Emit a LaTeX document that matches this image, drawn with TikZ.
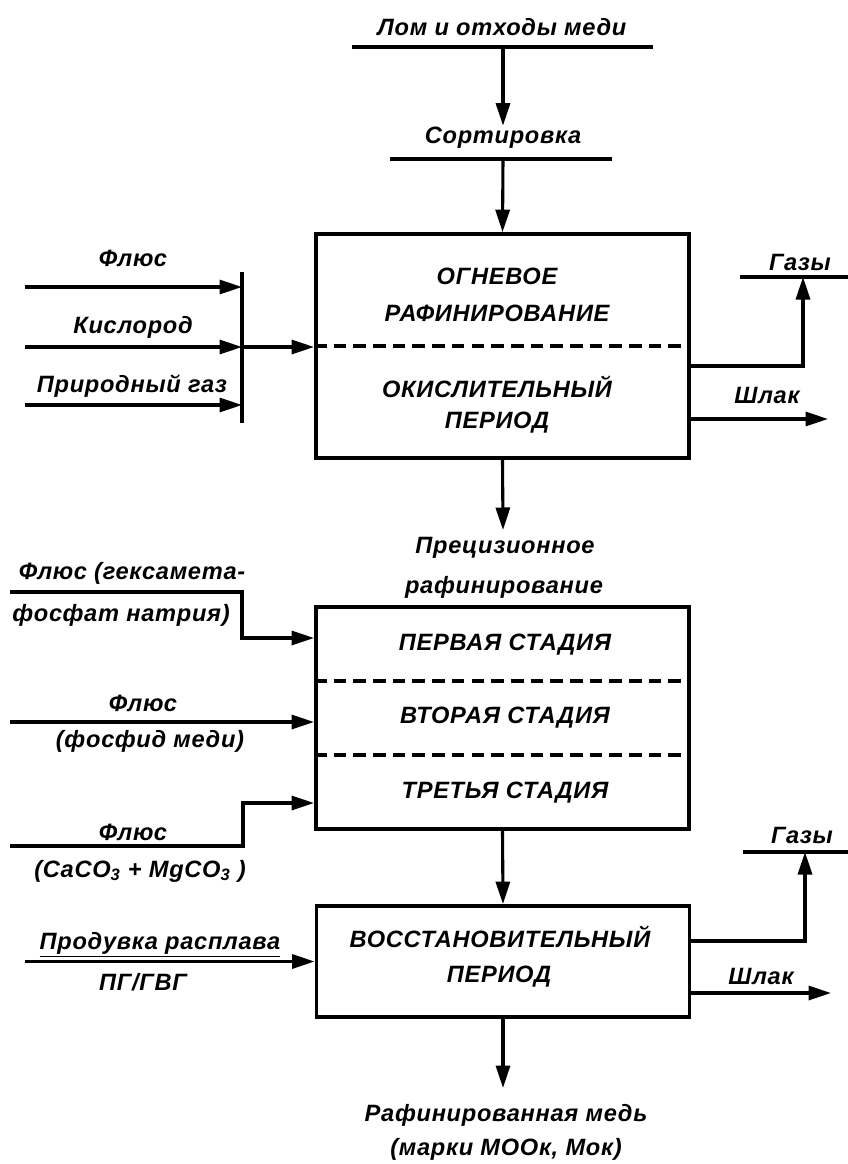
\documentclass[tikz,border=0pt]{standalone}
\usepackage{fontspec}
\setmainfont{Liberation Sans}
\newfontfamily\gost{Liberation Sans}[LetterSpace=3]
\usetikzlibrary{arrows.meta, positioning, calc}
\tikzset{
	stage/.style={draw, line width=2.6pt, minimum width=9.33cm, inner sep=0pt},
	lbl/.style={font=\gost\bfseries\itshape\fontsize{16.8}{20}\selectfont, inner sep=1pt},
	flow/.style={line width=2.2pt, -{Triangle[length=16pt,width=10pt]}},
	rule/.style={line width=2.2pt},
	divider/.style={line width=2.4pt, dash pattern=on 9pt off 5pt}
}

\begin{document}
\begin{tikzpicture}[x=0.025cm, y=-0.025cm]
					\useasboundingbox (0,0) rectangle (848,1164);
					
					% scrap and sorting
					\node[lbl] at (502,27) (scrap) {Лом и отходы меди};
					\coordinate (scrapL) at (352,47);
					\coordinate (scrapR) at (653,47);
					\coordinate (scrapC) at (503,47);
					\draw[rule] (scrapL) -- (scrapR);
					\node[lbl] at (503,138) (sorting) {Сортировка};
					\coordinate (sortL) at (390,159);
					\coordinate (sortR) at (612,159);
					\coordinate (sortC) at (503,159);
					\draw[rule] (sortL) -- (sortR);
					\draw[flow] (scrapC) -- (sorting.north);
					
					% fire refining
					\node[stage, minimum height=5.6cm] at (502.5,346) (fire) {};
					\node[lbl] at (497,276) (fireA) {ОГНЕВОЕ};
					\node[lbl] at (497,313) (fireB) {РАФИНИРОВАНИЕ};
					\node[lbl] at (497,387) (fireC) {ОКИСЛИТЕЛЬНЫЙ};
					\node[lbl] at (497,423) (fireD) {ПЕРИОД};
					\draw[divider] (fire.west) -- (fire.east);
					\draw[flow] (sortC) -- (fire.north);
					
					\coordinate (barT) at (242,272);
					\coordinate (barB) at (242,423);
					\draw[rule] (barT) -- (barB);
					\foreach \y [count=\i] in {287,347,405} {
						\coordinate (src\i) at (25,\y);
						\coordinate (bar\i) at (242,\y);
						\draw[flow] (src\i) -- (bar\i);
					}
					\node[lbl] at (133,258) (flux) {Флюс};
					\node[lbl] at (133,327) (oxygen) {Кислород};
					\node[lbl] at (132,386) (natgas) {Природный газ};
					\draw[flow] (bar2) -- (fire.west |- bar2);
					
					\coordinate (gasL) at (740,277);
					\coordinate (gasR) at (848,277);
					\coordinate (gasUp) at (803,277);
					\coordinate (gasRow) at (0,366);
					\draw[rule] (gasL) -- (gasR);
					\node[lbl] at (800,262) (gasA) {Газы};
					\draw[flow] (fire.east |- gasRow) -- (gasUp |- gasRow) -- (gasUp);
					\coordinate (slagEnd) at (828,419);
					\node[lbl] at (767,395) (slagA) {Шлак};
					\draw[flow] (fire.east |- slagEnd) -- (slagEnd);
					
					% precision refining
					\coordinate (precIn) at (503,530);
					\draw[flow] (fire.south) -- (precIn);
					\node[lbl] at (505,548) (precA) {Прецизионное};
					\node[lbl] at (504,587) (precB) {рафинирование};
					\node[stage, minimum height=5.55cm] at (502.5,718) (precise) {};
					\node[lbl] at (505,645) (stage1) {ПЕРВАЯ СТАДИЯ};
					\node[lbl] at (505,718) (stage2) {ВТОРАЯ СТАДИЯ};
					\node[lbl] at (505,793) (stage3) {ТРЕТЬЯ СТАДИЯ};
					\coordinate (div1) at (0,681);
					\coordinate (div2) at (0,755);
					\draw[divider] (precise.west |- div1) -- (precise.east |- div1);
					\draw[divider] (precise.west |- div2) -- (precise.east |- div2);
					
					\coordinate (hexL) at (10,592);
					\coordinate (hexK) at (242,592);
					\coordinate (hexRow) at (0,638);
					\node[lbl] at (132,573) (hexA) {Флюс (гексамета-};
					\node[lbl] at (121,615) (hexB) {фосфат натрия)};
					\draw[flow] (hexL) -- (hexK) -- (hexK |- hexRow) -- (precise.west |- hexRow);
					
					\coordinate (phosL) at (10,722);
					\node[lbl] at (143,703) (phosA) {Флюс};
					\node[lbl] at (150,741) (phosB) {(фосфид меди)};
					\draw[flow] (phosL) -- (precise.west |- phosL);
					
					\coordinate (carbL) at (10,846);
					\coordinate (carbK) at (243,846);
					\coordinate (carbRow) at (0,803);
					\node[lbl] at (133,832) (carbA) {Флюс};
					\node[lbl] at (140,871) (carbB) {(CaCO\textsubscript{3} + MgCO\textsubscript{3} )};
					\draw[flow] (carbL) -- (carbK) -- (carbK |- carbRow) -- (precise.west |- carbRow);
					
					% reduction
					\node[stage, minimum height=2.78cm] at (503,961.5) (reduce) {};
					\node[lbl] at (500,937) (redA) {ВОССТАНОВИТЕЛЬНЫЙ};
					\node[lbl] at (499,977) (redB) {ПЕРИОД};
					\draw[flow] (precise.south) -- (reduce.north);
					
					\coordinate (blowL) at (25,961.5);
					\node[lbl] at (160,945) (blowA) {\underline{Продувка расплава}};
					\node[lbl] at (143,982) (blowB) {ПГ/ГВГ};
					\draw[flow] (blowL) -- (reduce.west);
					
					\coordinate (gas2L) at (743,852);
					\coordinate (gas2R) at (848,852);
					\coordinate (gas2Up) at (805,852);
					\coordinate (gas2Row) at (0,941);
					\draw[rule] (gas2L) -- (gas2R);
					\node[lbl] at (802,835) (gasB) {Газы};
					\draw[flow] (reduce.east |- gas2Row) -- (gas2Up |- gas2Row) -- (gas2Up);
					\coordinate (slag2End) at (831,993);
					\node[lbl] at (761,976) (slagB) {Шлак};
					\draw[flow] (reduce.east |- slag2End) -- (slag2End);
					
					% product
					\coordinate (product) at (503,1088);
					\draw[flow] (reduce.south) -- (product);
					\node[lbl] at (506,1115) (copperA) {Рафинированная медь};
					\node[lbl] at (506,1149) (copperB) {(марки МООк, Мок)};
				\end{tikzpicture}
\end{document}
